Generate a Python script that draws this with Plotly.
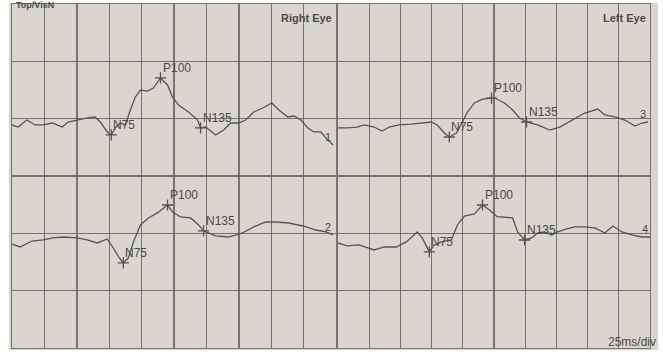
import plotly.graph_objects as go

# ---------------- data (time in ms, amplitude in µV relative to baseline) ----------------
# Channel 1 - Right Eye (top row)
t1 = [0, 4.6, 11.6, 17.8, 24.0, 31.0, 34.8, 38.7, 43.3, 50.3, 58.0, 64.2, 68.1, 73.5, 76.6,
      79.7, 83.6, 87.5, 91.3, 95.2, 99.1, 104.5, 109.1, 114.6, 120.0, 123.8, 128.5, 136.2,
      143.2, 145.5, 149.4, 157.1, 163.3, 168.7, 174.9, 180.3, 186.5, 193.5, 200.5, 205.9,
      212.8, 217.5, 222.9, 228.3, 233.0, 238.4, 242.3, 247.7]
a1 = [-0.05, -0.23, 0.38, -0.05, -0.05, 0.12, -0.05, -0.23, 0.21, 0.38, 0.56, 0.65, 0.21, -0.66, -0.92,
      -0.31, 0.12, -0.05, 1.26, 2.39, 3.00, 2.91, 3.17, 4.05, 3.44, 2.39, 1.69, 1.08,
      0.38, -0.31, -0.23, -0.92, -0.49, 0.12, 0.12, 0.38, 1.08, 1.43, 1.87, 1.26,
      0.65, 0.73, 0.38, -0.31, -0.66, -0.66, -1.19, -1.80]
p1 = [76.6, 114.6, 145.5]

# Channel 2 - Right Eye (bottom row)
t2 = [0, 6.2, 15.5, 24.0, 31.7, 39.5, 50.3, 58.0, 65.8, 73.5, 78.2, 82.8, 85.9, 89.8, 93.7,
      99.1, 105.3, 112.2, 120.0, 123.8, 130.0, 137.8, 144.0, 147.8, 157.1, 167.2, 178.0,
      186.5, 195.8, 203.6, 213.6, 224.5, 234.5, 242.3, 247.7]
a2 = [-0.43, -0.69, -0.17, -0.08, 0.10, 0.18, 0.10, -0.08, -0.34, 0.01, -0.78, -1.65, -2.08, -1.65, -0.25,
      1.23, 1.84, 2.28, 2.97, 2.37, 1.93, 1.84, 1.23, 0.71, 0.27, 0.18, 0.53,
      1.06, 1.49, 1.49, 1.40, 1.14, 0.79, 0.62, 0.36]
p2 = [85.9, 120.0, 147.8]

# Channel 3 - Left Eye (top row)
t3 = [0, 7.2, 15.3, 20.9, 28.9, 35.4, 41.0, 49.0, 58.7, 69.1, 74.8, 79.6, 85.2, 89.2, 94.9,
      99.7, 103.7, 109.3, 115.8, 123.0, 125.4, 133.4, 139.9, 145.5, 151.1, 160.0, 169.6,
      177.7, 187.3, 197.7, 208.2, 213.8, 221.9, 229.9, 238.0, 243.6, 248.4]
a3 = [-0.31, -0.31, -0.23, -0.05, -0.23, -0.58, -0.23, -0.05, 0.03, 0.12, 0.21, -0.05, -0.75, -1.10, -0.75,
      0.21, 1.08, 1.87, 2.21, 2.30, 2.30, 1.87, 1.26, 0.56, 0.21, -0.05, -0.49,
      -0.23, 0.38, 0.99, 1.34, 0.82, 0.65, 0.38, -0.14, 0.12, 0.21]
p3 = [89.2, 123.0, 151.1]

# Channel 4 - Left Eye (bottom row)
t4 = [0, 7.2, 16.9, 28.9, 37.0, 46.6, 54.7, 59.5, 63.5, 67.5, 73.2, 77.2, 82.8, 90.8, 95.7,
      101.3, 109.3, 115.8, 121.4, 127.8, 131.0, 139.9, 143.9, 149.5, 155.1, 160.0, 165.6,
      171.2, 176.0, 183.3, 189.7, 197.7, 205.8, 213.8, 220.3, 227.5, 235.5, 243.6, 250.0]
a4 = [-0.34, -0.60, -0.51, -0.95, -0.69, -0.69, -0.25, 0.18, 0.62, 0.10, -1.12, -0.51, -0.25, -0.08, 1.23,
      2.01, 2.19, 2.97, 2.54, 1.93, 1.93, 1.84, 0.62, -0.08, 0.10, 0.53, 0.62,
      0.36, 0.62, 0.88, 1.06, 1.06, 0.97, 0.53, 1.14, 0.62, 0.36, 0.18, 0.18]
p4 = [73.2, 115.8, 149.5]

peak_names = ["N75", "P100", "N135"]
channel_labels = ["1", "2", "3", "4"]
panel_titles = ["Right Eye", "Left Eye"]
top_label = "Top/VisN"
scale_label = "25ms/div"

# ---------------- styling / layout constants ----------------
W, H = 663, 354
ROW_OFFSET = {"top": 19.5, "bottom": 9.5}   # baseline position of each row (µV on axis)
BG = "#d9d6cf"
GRID = "rgba(100,100,95,0.85)"
TRACE = "#555553"
TEXT = "#4a4a48"
FONT = "Liberation Sans, Arial, sans-serif"

channels = [
    (t1, a1, p1, "x", "y", "top", channel_labels[0]),
    (t2, a2, p2, "x", "y", "bottom", channel_labels[1]),
    (t3, a3, p3, "x2", "y2", "top", channel_labels[2]),
    (t4, a4, p4, "x2", "y2", "bottom", channel_labels[3]),
]

fig = go.Figure()
annotations = []

for t, a, peaks, xa, ya, row, lab in channels:
    off = ROW_OFFSET[row]
    y = [v + off for v in a]
    fig.add_trace(go.Scatter(x=t, y=y, mode="lines", xaxis=xa, yaxis=ya,
                             line=dict(color=TRACE, width=1.3), hoverinfo="skip",
                             showlegend=False))
    px, py = [], []
    for name, pt in zip(peak_names, peaks):
        i = t.index(pt)
        px.append(t[i]); py.append(y[i])
        annotations.append(dict(x=t[i], y=y[i], xref=xa, yref=ya, text=name,
                                showarrow=False, xanchor="left", yanchor="middle",
                                xshift=0, yshift=10,
                                font=dict(family=FONT, size=12, color=TEXT)))
    fig.add_trace(go.Scatter(x=px, y=py, mode="markers", xaxis=xa, yaxis=ya,
                             marker=dict(symbol="cross-thin", size=8,
                                         line=dict(color=TRACE, width=1.3)),
                             hoverinfo="skip", showlegend=False))
    annotations.append(dict(x=t[-1], y=y[-1], xref=xa, yref=ya, text=lab,
                            showarrow=False, xanchor="center", yanchor="middle",
                            xshift=-5, yshift=8,
                            font=dict(family=FONT, size=11, color=TEXT)))

for title, xd, yd in [(panel_titles[0], "x domain", "y domain"),
                      (panel_titles[1], "x2 domain", "y2 domain")]:
    annotations.append(dict(x=1, y=1, xref=xd, yref=yd, text="<b>" + title + "</b>",
                            showarrow=False, xanchor="right", yanchor="top",
                            xshift=-2, yshift=-6,
                            font=dict(family=FONT, size=11, color=TEXT)))

annotations.append(dict(x=15 / W, y=1.0, xref="paper", yref="paper", text="<b>" + top_label + "</b>",
                        showarrow=False, xanchor="left", yanchor="top", yshift=1,
                        borderpad=0,
                        font=dict(family=FONT, size=9, color=TEXT)))
annotations.append(dict(x=658 / W, y=12 / H, xref="paper", yref="paper", text=scale_label,
                        showarrow=False, xanchor="right", yanchor="middle",
                        font=dict(family=FONT, size=12, color=TEXT)))

axis_common = dict(showticklabels=False, ticks="", showgrid=True, gridcolor=GRID,
                   gridwidth=1.4, zeroline=False, showline=True, mirror=True,
                   linecolor=GRID, linewidth=1.4, fixedrange=True)

ydom = [6 / H, 350 / H]
fig.update_layout(
    width=W, height=H, autosize=False,
    margin=dict(l=0, r=0, t=0, b=0),
    paper_bgcolor="white", plot_bgcolor=BG,
    xaxis=dict(domain=[12 / W, 336 / W], range=[0, 250], dtick=25, tick0=0,
               anchor="y", **axis_common),
    yaxis=dict(domain=ydom, range=[0, 30], dtick=5, tick0=0, anchor="x", **axis_common),
    xaxis2=dict(domain=[338 / W, 650 / W], range=[0, 250], dtick=25, tick0=0,
                anchor="y2", **axis_common),
    yaxis2=dict(domain=ydom, range=[0, 30], dtick=5, tick0=0, anchor="x2", **axis_common),
    shapes=[dict(type="rect", xref="paper", yref="paper", x0=9 / W, x1=658 / W,
                 y0=4 / H, y1=351 / H, fillcolor=BG, line=dict(width=0), layer="below")],
    annotations=annotations,
    showlegend=False,
)

fig.write_html("out.html", config={"displayModeBar": False, "staticPlot": True},
               post_script="document.body.style.margin='0';document.body.style.overflow='hidden';")
